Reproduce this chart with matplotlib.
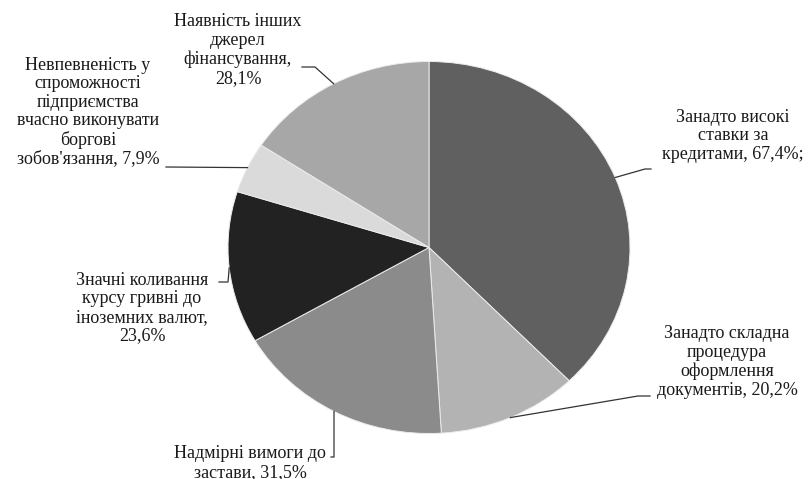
import numpy as np
import matplotlib

matplotlib.use("Agg")
import matplotlib.pyplot as plt  # noqa: E402

labels = [
    "Занадто високі\nставки за\nкредитами, 67,4%;",
    "Занадто складна\nпроцедура\nоформлення\nдокументів, 20,2%",
    "Надмірні вимоги до\nзастави, 31,5%",
    "Значні коливання\nкурсу гривні до\nіноземних валют,\n23,6%",
    "Невпевненість у\nспроможності\nпідприємства\nвчасно виконувати\nборгові\nзобов'язання, 7,9%",
    "Наявність інших\nджерел\nфінансування,\n28,1%",
]
values = [67.4, 20.2, 31.5, 23.6, 7.9, 28.1]
colors = ["#606060", "#b3b3b3", "#8b8b8b", "#222222", "#dadada", "#a7a7a7"]

# layout in pixels (image coords, y down)
W, H = 809, 479
CX, CY, RX, RY = 429, 247.5, 201, 186
label_pos = [(733, 136), (727, 362), (250, 463), (142, 308), (88, 112), (238, 50)]
elbows = [
    [(645, 169), (651, 169)],
    [(638, 396), (650, 396)],
    [(334, 457), (331, 457)],
    [(228, 282), (219, 282)],
    [(166, 167)],
    [(315, 67), (302, 67)],
]


def to_data(px, py):
    return (px - CX) / RX, (CY - py) / RY


plt.rcParams["font.family"] = ["Liberation Serif", "DejaVu Serif"]
fig = plt.figure(figsize=(W / 100, H / 100), dpi=100)
ax = fig.add_axes([(CX - RX) / W, (H - CY - RY) / H, 2 * RX / W, 2 * RY / H])

wedges, _ = ax.pie(
    values,
    colors=colors,
    startangle=90,
    counterclock=False,
    radius=1.0,
    wedgeprops={"edgecolor": "#ececec", "linewidth": 0.7},
)
ax.set_aspect("auto")
ax.set_xlim(-1, 1)
ax.set_ylim(-1, 1)
ax.axis("off")

for wedge, text, pos, elbow in zip(wedges, labels, label_pos, elbows):
    mid = np.deg2rad((wedge.theta1 + wedge.theta2) / 2)
    pts = [(np.cos(mid), np.sin(mid))] + [to_data(*p) for p in elbow]
    xs, ys = zip(*pts)
    ax.plot(xs, ys, color="#333333", linewidth=0.9, clip_on=False)
    tx, ty = to_data(*pos)
    ax.text(tx, ty, text, ha="center", va="center", fontsize=13,
            linespacing=1.12, color="#1a1a1a", clip_on=False)

fig.savefig("out.png", dpi=100)
